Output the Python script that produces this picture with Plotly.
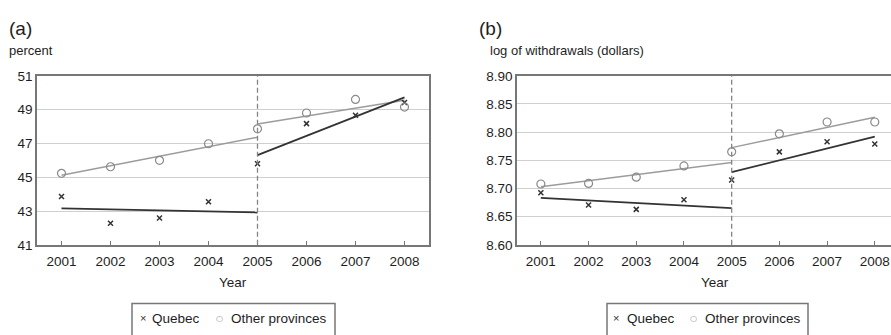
import numpy as np
import plotly.graph_objects as go

# Survey years and the policy break year
years = [2001, 2002, 2003, 2004, 2005, 2006, 2007, 2008]
break_year = 2005

# (a) percent
quebec_pct = [43.86, 42.28, 42.59, 43.55, 45.80, 48.17, 48.67, 49.42]
other_pct = [45.23, 45.62, 46.00, 46.98, 47.86, 48.80, 49.60, 49.15]

# (b) log of withdrawals (dollars)
quebec_log = [8.6926, 8.6706, 8.6630, 8.6800, 8.7150, 8.7650, 8.7830, 8.7790]
other_log = [8.7080, 8.7090, 8.7200, 8.7400, 8.7650, 8.7970, 8.8180, 8.8180]

a_ticks = [41, 43, 45, 47, 49, 51]
b_ticks = [8.60, 8.65, 8.70, 8.75, 8.80, 8.85, 8.90]

series_names = ["Quebec", "Other provinces"]

FONT = "Liberation Sans, Arial, sans-serif"
TXT = "#1e1e1e"
Q_COL = "#333333"
O_COL = "#8a8a8a"
O_LINE = "#9c9c9c"
FRAME = "#777777"
GRID = "#cfcfcf"

W, H = 891, 335


def px_x(p):
    return p / W


def px_y(p):
    return (H - p) / H


def segment_fits(x, y):
    """Linear trends before the break (extended to it) and from the break on."""
    x = np.asarray(x, float)
    y = np.asarray(y, float)
    pre = x < break_year
    post = x >= break_year
    c_pre = np.polyfit(x[pre], y[pre], 1)
    c_post = np.polyfit(x[post], y[post], 1)
    xp = np.array([x[pre].min(), break_year])
    xq = np.array([break_year, x[post].max()])
    return (xp, np.polyval(c_pre, xp)), (xq, np.polyval(c_post, xq))


fig = go.Figure()

panels = [
    ("x", "y", quebec_pct, other_pct),
    ("x2", "y2", quebec_log, other_log),
]

for xa, ya, q, o in panels:
    for vals, lcol, lw in [(o, O_LINE, 1.5), (q, Q_COL, 1.8)]:
        for xs, ys in segment_fits(years, vals):
            fig.add_trace(go.Scatter(
                x=xs, y=ys, mode="lines", xaxis=xa, yaxis=ya,
                line=dict(color=lcol, width=lw), showlegend=False,
                hoverinfo="skip"))
    fig.add_trace(go.Scatter(
        x=years, y=q, mode="markers", name=series_names[0], xaxis=xa, yaxis=ya,
        marker=dict(symbol="x-thin", size=5, line=dict(color=Q_COL, width=1.5),
                    color=Q_COL),
        showlegend=False))
    fig.add_trace(go.Scatter(
        x=years, y=o, mode="markers", name=series_names[1], xaxis=xa, yaxis=ya,
        marker=dict(symbol="circle-open", size=8, color=O_COL,
                    line=dict(width=1.2)),
        showlegend=False))

xcommon = dict(
    tickmode="array", tickvals=years, ticktext=[str(v) for v in years],
    ticks="inside", ticklen=4, tickcolor=FRAME, tickwidth=1.2,
    showgrid=False, zeroline=False,
    showline=True, linecolor=FRAME, linewidth=1.6, ticklabelstandoff=3,
    tickfont=dict(family=FONT, size=13.5, color=TXT), fixedrange=True,
)
ycommon = dict(
    ticks="", showgrid=True, gridcolor=GRID, gridwidth=1.3, zeroline=False,
    showline=True, linecolor=FRAME, linewidth=1.6,
    tickfont=dict(family=FONT, size=13.5, color=TXT), fixedrange=True,
)

fig.update_layout(
    width=W, height=H, margin=dict(l=0, r=0, t=0, b=0),
    paper_bgcolor="white", plot_bgcolor="white",
    font=dict(family=FONT, size=13, color=TXT),
    xaxis=dict(xcommon, domain=[px_x(37), px_x(429)], range=[2000.5, 2008.5],
               mirror=True, anchor="y"),
    yaxis=dict(ycommon, domain=[px_y(249), px_y(72)], range=[41, 51],
               tickvals=a_ticks, mirror=True, anchor="x"),
    xaxis2=dict(xcommon, domain=[px_x(517), 1.0], range=[2000.5, 2008.34],
                mirror=True, anchor="y2"),
    yaxis2=dict(ycommon, domain=[px_y(249), px_y(72)], range=[8.60, 8.90],
                tickvals=b_ticks, tickformat=".2f", mirror=False, anchor="x2"),
    showlegend=False,
)

# Dashed marker of the break year in both panels
for xa, ya in [("x", "y"), ("x2", "y2")]:
    fig.add_shape(type="line", xref=xa, yref=f"{ya} domain",
                  x0=break_year, x1=break_year, y0=0, y1=1,
                  line=dict(color="#858585", width=1.3, dash="5px,3px"))

notes = [
    ("(a)", 7, 22, 19),
    ("percent", 7, 46, 13),
    ("(b)", 477, 22, 19),
    ("log of withdrawals (dollars)", 488, 46, 13),
]
for text, xp, yp, size in notes:
    fig.add_annotation(text=text, xref="paper", yref="paper", x=px_x(xp),
                       y=px_y(yp), xanchor="left", yanchor="middle",
                       showarrow=False, font=dict(family=FONT, size=size, color=TXT))

for xc in [233, 715]:
    fig.add_annotation(text="Year", xref="paper", yref="paper", x=px_x(xc),
                       y=px_y(288), xanchor="center", yanchor="middle",
                       showarrow=False, font=dict(family=FONT, size=13.5, color=TXT))

# Key boxes below each panel: (box left, box right, x-glyph, text, circle, text)
keys = [
    (132, 335, 142.7, 150, 219, 229),
    (607, 808, 615.7, 625, 693, 703),
]
KEY_Y = 326
for bl, br, gx1, tx1, gx2, tx2 in keys:
    fig.add_shape(type="rect", xref="paper", yref="paper",
                  x0=px_x(bl), x1=px_x(br), y0=px_y(350), y1=px_y(310.5),
                  line=dict(color=FRAME, width=1.5), fillcolor="white")
    fig.add_annotation(text="×", xref="paper", yref="paper", x=px_x(gx1),
                       y=px_y(KEY_Y), xanchor="center", yanchor="middle",
                       showarrow=False, font=dict(family=FONT, size=11, color=Q_COL))
    fig.add_annotation(text=series_names[0], xref="paper", yref="paper",
                       x=px_x(tx1), y=px_y(KEY_Y), xanchor="left", yanchor="middle",
                       showarrow=False, font=dict(family=FONT, size=13.5, color=TXT))
    fig.add_annotation(text="○", xref="paper", yref="paper", x=px_x(gx2),
                       y=px_y(KEY_Y), xanchor="center", yanchor="middle",
                       showarrow=False,
                       font=dict(family="DejaVu Sans", size=8, color=O_COL))
    fig.add_annotation(text=series_names[1], xref="paper", yref="paper",
                       x=px_x(tx2), y=px_y(KEY_Y), xanchor="left", yanchor="middle",
                       showarrow=False, font=dict(family=FONT, size=13.5, color=TXT))

fig.write_html("out.html")
